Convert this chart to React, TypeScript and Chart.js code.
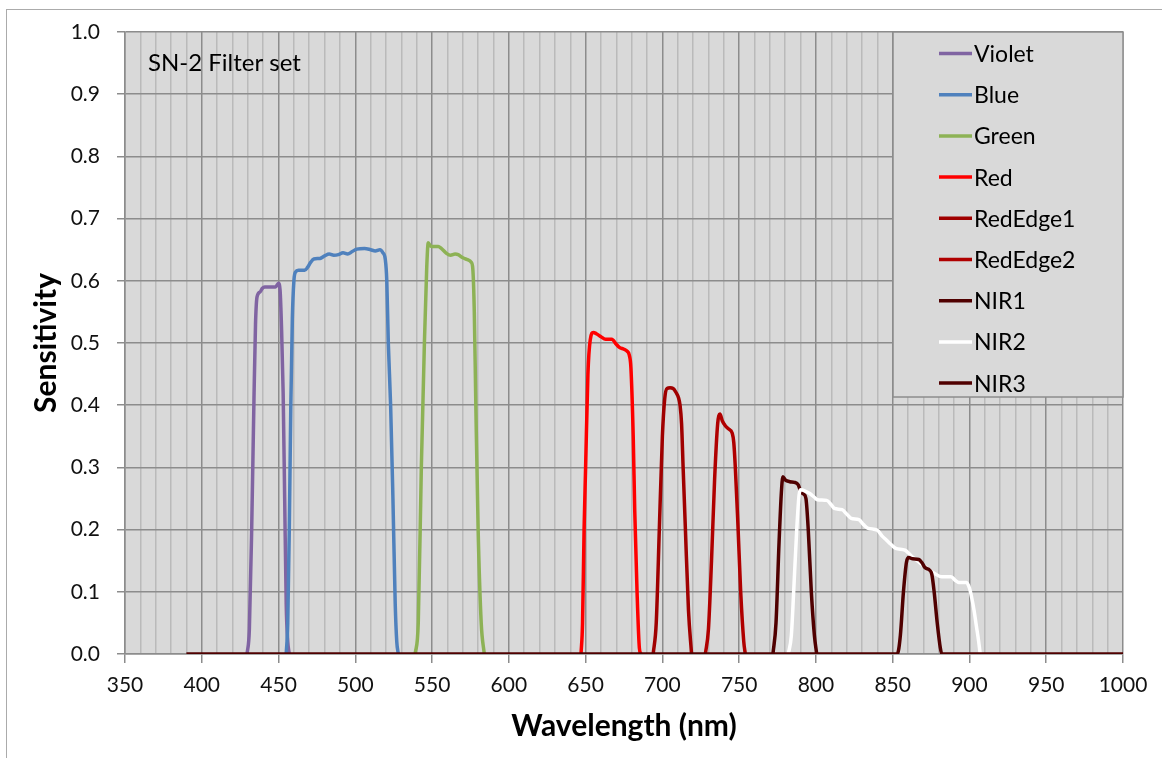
import React, { useEffect, useRef } from 'react';
import { Chart, registerables } from 'chart.js';

Chart.register(...registerables);

const chartTitle = 'SN-2 Filter set';
const xTitle = 'Wavelength (nm)';
const yTitle = 'Sensitivity';

const seriesNames = ['Violet', 'Blue', 'Green', 'Red', 'RedEdge1', 'RedEdge2', 'NIR1', 'NIR2', 'NIR3'];
const seriesColors = ['#8064A2', '#4F81BD', '#8DB255', '#FF0000', '#A00000', '#B00000', '#500000', '#FFFFFF', '#500000'];

const xMin = 350;
const xMax = 1000;
const xStep = 10;
const xLabelEvery = 50;
const yMin = 0;
const yMax = 1;
const yStep = 0.1;

// [wavelength nm, sensitivity]
const violet = [[429.5, 0], [431, 0.04], [432.5, 0.2], [434, 0.41], [435, 0.53], [436, 0.574], [438, 0.582], [439.5, 0.588], [441, 0.59], [446, 0.59], [448, 0.59], [450, 0.596], [451, 0.585], [452, 0.52], [453, 0.42], [454, 0.25], [455, 0.08], [456, 0.02], [457, 0]];
const blue = [[455, 0], [456, 0.05], [457, 0.2], [458, 0.4], [459, 0.54], [460, 0.6], [461, 0.614], [463, 0.617], [467, 0.617], [469, 0.622], [471, 0.63], [473, 0.635], [477, 0.636], [480, 0.64], [483, 0.643], [486, 0.641], [489, 0.642], [492, 0.645], [495, 0.643], [498, 0.647], [501, 0.651], [506, 0.652], [510, 0.65], [513, 0.648], [516, 0.65], [518, 0.645], [519.5, 0.635], [520.5, 0.6], [521.5, 0.5], [523, 0.4], [524.5, 0.25], [526, 0.08], [527, 0.02], [528, 0]];
const green = [[539, 0], [541, 0.05], [543, 0.3], [545, 0.5], [546.5, 0.62], [547.5, 0.661], [549, 0.656], [551, 0.655], [554, 0.655], [556, 0.652], [559, 0.645], [562, 0.641], [565, 0.643], [567, 0.642], [570, 0.637], [573, 0.634], [575.5, 0.63], [576.5, 0.62], [577.5, 0.55], [578.5, 0.4], [580, 0.2], [582, 0.05], [584, 0]];
const red = [[647, 0], [648, 0.05], [649, 0.2], [650, 0.3], [651.5, 0.45], [653, 0.505], [655, 0.517], [657, 0.515], [660, 0.51], [663, 0.506], [667, 0.506], [670, 0.498], [672, 0.493], [675, 0.49], [677, 0.487], [678.5, 0.48], [679.5, 0.46], [681, 0.35], [682, 0.23], [683.5, 0.1], [685, 0.01], [686, 0]];
const redEdge1 = [[694, 0], [696, 0.05], [698, 0.2], [700, 0.35], [701.5, 0.41], [703, 0.427], [705, 0.428], [707, 0.427], [709, 0.42], [710.5, 0.412], [711.5, 0.4], [712.5, 0.37], [713.5, 0.3], [715, 0.2], [717, 0.07], [719, 0]];
const redEdge2 = [[728, 0], [730, 0.04], [732, 0.15], [734, 0.28], [736, 0.37], [737.5, 0.386], [739, 0.375], [741, 0.367], [743, 0.362], [745.5, 0.355], [746.5, 0.34], [747.5, 0.3], [749, 0.22], [751, 0.1], [753, 0.02], [754, 0]];
const nir1 = [[772, 0], [774, 0.05], [776, 0.18], [777.5, 0.26], [778.5, 0.285], [780, 0.28], [783, 0.277], [786, 0.276], [788.5, 0.272], [790, 0.262], [792, 0.257], [793.5, 0.25], [795, 0.2], [797, 0.1], [799, 0.03], [800.5, 0]];
const nir2 = [[782, 0], [784, 0.03], [785.5, 0.1], [787.5, 0.2], [789, 0.255], [790, 0.264], [793, 0.262], [796, 0.258], [799, 0.252], [801, 0.248], [807, 0.247], [810, 0.24], [812, 0.234], [817, 0.232], [820, 0.225], [823, 0.218], [828, 0.216], [831, 0.208], [834, 0.202], [840, 0.199], [843, 0.19], [846, 0.183], [849, 0.176], [852, 0.17], [858, 0.167], [862, 0.158], [866, 0.15], [870, 0.142], [874, 0.135], [877, 0.13], [882, 0.124], [888, 0.124], [891, 0.118], [893, 0.115], [898, 0.115], [900, 0.106], [901.5, 0.09], [903, 0.07], [904.5, 0.045], [906, 0.02], [907, 0]];
const nir3 = [[390, 0], [853, 0], [855, 0.03], [857, 0.1], [859, 0.148], [860.5, 0.155], [863, 0.153], [867, 0.152], [869, 0.147], [871, 0.139], [874, 0.135], [875.5, 0.128], [877, 0.1], [879, 0.05], [881, 0.01], [882, 0], [1000, 0]];

const seriesData = [violet, blue, green, red, redEdge1, redEdge2, nir1, nir2, nir3];

const FONT = 'Lato, "Open Sans", sans-serif';

const bgPlugin = {
  id: 'plotBg',
  beforeDraw(chart: any) {
    const { ctx, chartArea } = chart;
    ctx.save();
    ctx.fillStyle = '#D9D9D9';
    ctx.fillRect(chartArea.left, chartArea.top, chartArea.right - chartArea.left, chartArea.bottom - chartArea.top);
    ctx.restore();
  },
};

const overlayPlugin = {
  id: 'overlay',
  beforeDatasetsDraw(chart: any) {
    const { ctx, chartArea } = chart;
    ctx.save();
    // title text inside plot
    ctx.font = `24px ${FONT}`;
    ctx.fillStyle = '#000000';
    ctx.textAlign = 'left';
    ctx.textBaseline = 'alphabetic';
    ctx.fillText(chartTitle, chartArea.left + 23, chartArea.top + 38.5);
    // legend box
    const lw = 230;
    const lh = 365;
    const lx = chartArea.right - lw;
    const ly = chartArea.top;
    ctx.fillStyle = '#D9D9D9';
    ctx.fillRect(lx, ly, lw, lh);
    ctx.strokeStyle = '#8C8C8C';
    ctx.lineWidth = 1.5;
    ctx.strokeRect(lx, ly, lw, lh);
    chart.data.datasets.forEach((ds: any, i: number) => {
      const y = ly + 21.5 + i * 41.2;
      ctx.strokeStyle = ds.borderColor;
      ctx.lineWidth = 3.5;
      ctx.beginPath();
      ctx.moveTo(lx + 46, y);
      ctx.lineTo(lx + 79, y);
      ctx.stroke();
      ctx.fillStyle = '#000000';
      ctx.font = `23px ${FONT}`;
      ctx.textBaseline = 'middle';
      ctx.fillText(ds.label, lx + 81, y + 1);
    });
    ctx.restore();
  },
};

export default function App() {
  const canvasRef = useRef<HTMLCanvasElement | null>(null);

  useEffect(() => {
    if (!canvasRef.current) return;
    const datasets = seriesNames.map((name, i) => ({
      label: name,
      data: seriesData[i].map(([x, y]) => ({ x, y })),
      borderColor: seriesColors[i],
      backgroundColor: seriesColors[i],
      borderWidth: 3.5,
      showLine: true,
      pointRadius: 0,
      pointHoverRadius: 0,
      cubicInterpolationMode: 'monotone' as const,
      order: seriesNames.length - i,
      fill: false,
    }));

    const chart = new Chart(canvasRef.current, {
      type: 'scatter',
      data: { datasets },
      options: {
        animation: false,
        responsive: false,
        maintainAspectRatio: false,
        layout: { padding: { left: 0, right: 39, top: 32, bottom: 0 } },
        plugins: {
          legend: { display: false },
          tooltip: { enabled: false },
          title: { display: false },
        },
        scales: {
          x: {
            type: 'linear',
            min: xMin,
            max: xMax,
            afterFit: (s: any) => { s.height = 104; },
            ticks: {
              stepSize: xStep,
              autoSkip: false,
              maxRotation: 0,
              minRotation: 0,
              padding: 10,
              color: '#111111',
              font: { family: FONT, size: 21 },
              callback: (v: any) => (Math.round(Number(v)) % xLabelEvery === 0 ? String(Math.round(Number(v))) : ''),
            },
            grid: {
              color: (ctx: any) => (ctx.tick && Math.round(ctx.tick.value) % xLabelEvery === 0 ? '#8C8C8C' : '#BABABA'),
              lineWidth: 1.5,
              tickLength: 9,
              tickColor: (ctx: any) => (ctx.tick && Math.round(ctx.tick.value) % xLabelEvery === 0 ? '#8C8C8C' : 'rgba(0,0,0,0)'),
            },
            border: { color: '#8C8C8C', width: 1.5 },
            title: {
              display: true,
              text: xTitle,
              color: '#000000',
              font: { family: FONT, size: 30, weight: 'bold' },
              padding: { top: 0, bottom: 14 },
            },
          },
          y: {
            type: 'linear',
            min: yMin,
            max: yMax,
            afterFit: (s: any) => { s.width = 125; },
            ticks: {
              stepSize: yStep,
              padding: 17,
              color: '#111111',
              font: { family: FONT, size: 21 },
              callback: (v: any) => Number(v).toFixed(1),
            },
            grid: {
              color: '#8C8C8C',
              lineWidth: 1.5,
              tickLength: 8,
              tickColor: '#8C8C8C',
            },
            border: { color: '#8C8C8C', width: 1.5 },
            title: {
              display: true,
              text: yTitle,
              color: '#000000',
              font: { family: FONT, size: 30, weight: 'bold' },
              padding: { top: 28, bottom: 0 },
            },
          },
        },
      },
      plugins: [bgPlugin, overlayPlugin],
    } as any);

    return () => chart.destroy();
  }, []);

  return (
    <div style={{ position: 'fixed', left: 0, top: 0, width: 1162, height: 758, background: '#FFFFFF', overflow: 'hidden' }}>
      <div style={{ position: 'absolute', left: 6, top: 9, width: 1200, height: 800, border: '1px solid #ABABAB', boxSizing: 'border-box' }} />
      <canvas ref={canvasRef} width={1162} height={758} style={{ position: 'absolute', left: 0, top: 0, width: 1162, height: 758 }} />
    </div>
  );
}
